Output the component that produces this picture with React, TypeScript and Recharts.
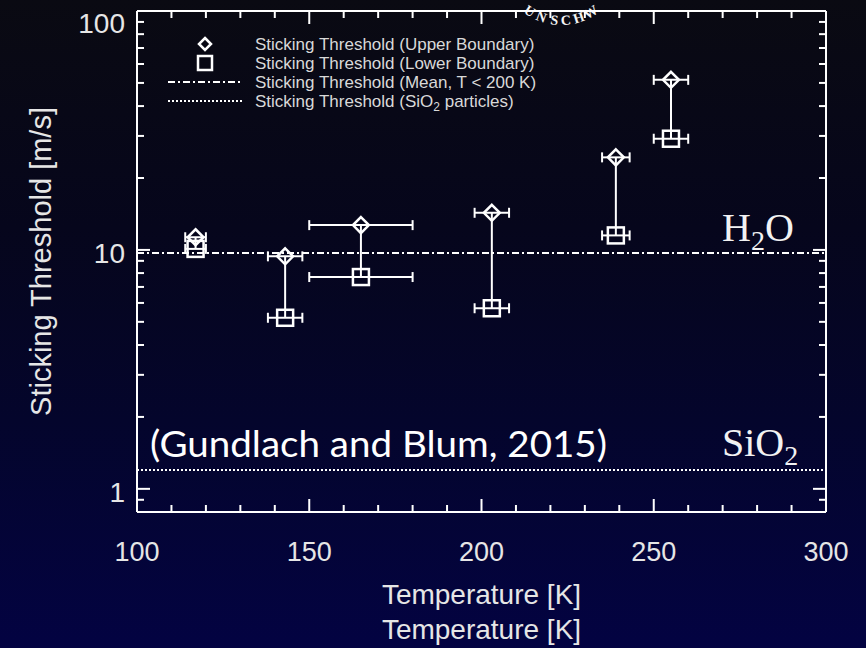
import { ScatterChart, Scatter, XAxis, YAxis, ErrorBar, ReferenceLine, Legend } from 'recharts';

// measured sticking thresholds per temperature bin
const temperatures = [117, 143, 165, 203, 239, 255];
const temperatureErr = [3, 5, 15, 5, 4, 5];
const upperBoundary = [11.3, 9.4, 12.7, 14.3, 24.4, 51.5];
const lowerBoundary = [10.1, 5.2, 7.7, 5.7, 11.5, 29.2];

const meanThreshold = 9.7; // mean, T < 200 K
const sio2Threshold = 1.2;

const xTicks = [100, 110, 120, 130, 140, 150, 160, 170, 180, 190, 200, 210, 220, 230, 240, 250, 260, 270, 280, 290, 300];
const xLabels = [100, 150, 200, 250, 300];
const yTicks = [0.8, 0.9, 1, 2, 3, 4, 5, 6, 7, 8, 9, 10, 20, 30, 40, 50, 60, 70, 80, 90, 100];
const yLabels = [1, 10, 100];

const legendLabels = [
  'Sticking Threshold (Upper Boundary)',
  'Sticking Threshold (Lower Boundary)',
  'Sticking Threshold (Mean, T < 200 K)',
];

// letters of the seal rim and their angle from the bottom of the ring (deg)
const sealLetters = ['U', 'N', 'S', 'C', 'H', 'W'];
const sealAngles = [-33, -20, -6.5, 5, 18, 31];

const upperRows = temperatures.map((t, i) => ({
  t,
  v: upperBoundary[i],
  terr: temperatureErr[i],
  span: [upperBoundary[i] - lowerBoundary[i], 0],
}));
const lowerRows = temperatures.map((t, i) => ({ t, v: lowerBoundary[i], terr: temperatureErr[i] }));

const WHITE = '#ffffff';
const TEXT = '#e6e6e6';
const SANS = '"Liberation Sans", Arial, sans-serif';
const SERIF = '"Liberation Serif", "Times New Roman", serif';

const Diamond = (props: any) => {
  const { cx, cy } = props;
  const r = 8;
  return (
    <path
      d={`M${cx},${cy - r} L${cx + r},${cy} L${cx},${cy + r} L${cx - r},${cy} Z`}
      fill="none"
      stroke={WHITE}
      strokeWidth={2.5}
    />
  );
};

const Square = (props: any) => {
  const { cx, cy } = props;
  const r = 8;
  return <rect x={cx - r} y={cy - r} width={2 * r} height={2 * r} fill="none" stroke={WHITE} strokeWidth={2.5} />;
};

// inward ticks, labels only on the major ones
const BottomTick = ({ x, y, payload }: any) => {
  const major = xLabels.includes(payload.value);
  return (
    <g>
      <line x1={x} y1={y} x2={x} y2={y - (major ? 13 : 7)} stroke={WHITE} strokeWidth={2} />
      {major && (
        <text x={x} y={y + 49} textAnchor="middle" fill={TEXT} fontSize={27} fontFamily={SANS}>
          {payload.value}
        </text>
      )}
    </g>
  );
};

const TopTick = ({ x, y, payload }: any) => {
  const major = xLabels.includes(payload.value);
  return <line x1={x} y1={y} x2={x} y2={y + (major ? 13 : 7)} stroke={WHITE} strokeWidth={2} />;
};

const LeftTick = ({ x, y, payload }: any) => {
  const major = yLabels.includes(payload.value);
  return (
    <g>
      <line x1={x} y1={y} x2={x + (major ? 13 : 7)} y2={y} stroke={WHITE} strokeWidth={2} />
      {major && (
        <text x={x - 12} y={Math.max(y + 13, 33)} textAnchor="end" fill={TEXT} fontSize={28} fontFamily={SANS}>
          {payload.value}
        </text>
      )}
    </g>
  );
};

const RightTick = ({ x, y, payload }: any) => {
  const major = yLabels.includes(payload.value);
  return <line x1={x} y1={y} x2={x - (major ? 13 : 7)} y2={y} stroke={WHITE} strokeWidth={2} />;
};

const XTitle = ({ viewBox }: any) => {
  const cx = viewBox.x + viewBox.width / 2;
  const y = viewBox.y;
  return (
    <g fill={TEXT} fontSize={28} fontFamily={SANS} textAnchor="middle">
      <text x={cx} y={y + 92}>Temperature [K]</text>
      <text x={cx} y={y + 127}>Temperature [K]</text>
    </g>
  );
};

const YTitle = ({ viewBox }: any) => {
  const x = viewBox.x + viewBox.width - 86;
  const cy = viewBox.y + viewBox.height / 2;
  return (
    <text
      x={x}
      y={cy}
      transform={`rotate(-90, ${x}, ${cy})`}
      textAnchor="middle"
      fill={TEXT}
      fontSize={29}
      fontFamily={SANS}
    >
      Sticking Threshold [m/s]
    </text>
  );
};

const H2OLabel = ({ viewBox }: any) => {
  const x = viewBox.x + viewBox.width - 104;
  const y = viewBox.y - 12;
  return (
    <text x={x} y={y} fill="#f2f2f2" fontSize={40} fontFamily={SERIF}>
      H<tspan fontSize={28} dy={9}>2</tspan>
      <tspan dy={-9}>O</tspan>
    </text>
  );
};

const SiO2Label = ({ viewBox }: any) => {
  const right = viewBox.x + viewBox.width;
  const y = viewBox.y - 14;
  return (
    <g>
      <text x={viewBox.x + 13} y={y + 1} fill="#ffffff" fontSize={36} fontFamily="Lato, sans-serif" textLength={457} lengthAdjust="spacingAndGlyphs">
        (Gundlach and Blum, 2015)
      </text>
      <text x={right - 104} y={y} fill="#f2f2f2" fontSize={40} fontFamily={SERIF}>
        SiO<tspan fontSize={28} dy={9}>2</tspan>
      </text>
    </g>
  );
};

const LegendBox = () => {
  const rowY = [10, 29, 48, 67];
  const textX = 95;
  return (
    <svg width={420} height={80} style={{ display: 'block' }}>
      <path d={`M45,${rowY[0] - 6} L51,${rowY[0]} L45,${rowY[0] + 6} L39,${rowY[0]} Z`} fill="none" stroke={WHITE} strokeWidth={2.5} />
      <rect x={38} y={rowY[1] - 7} width={14} height={14} fill="none" stroke={WHITE} strokeWidth={2.5} />
      <line x1={8} y1={rowY[2]} x2={82} y2={rowY[2]} stroke={WHITE} strokeWidth={2} strokeDasharray="7 3 2 3" />
      <line x1={8} y1={rowY[3]} x2={82} y2={rowY[3]} stroke={WHITE} strokeWidth={2} strokeDasharray="2 2" />
      <g fill="#d9d9d9" fontSize={17} fontFamily={SANS}>
        {legendLabels.map((label, i) => (
          <text key={label} x={textX} y={rowY[i] + 6}>
            {label}
          </text>
        ))}
        <text x={textX} y={rowY[3] + 6}>
          Sticking Threshold (SiO<tspan fontSize={12} dy={4}>2</tspan>
          <tspan dy={-4}> particles)</tspan>
        </text>
      </g>
    </svg>
  );
};

// bit of the university seal peeking in above the frame
const SealText = () => {
  const cx = 561;
  const cy = -37;
  const r = 62;
  return (
    <g fill="#f4f4f4" fontSize={14} fontWeight="bold" fontFamily={SERIF} textAnchor="middle">
      {sealLetters.map((ch, i) => (
        <text key={ch} x={cx} y={cy + r} transform={`rotate(${-sealAngles[i]}, ${cx}, ${cy})`}>
          {ch}
        </text>
      ))}
    </g>
  );
};

const axisLine = { stroke: WHITE, strokeWidth: 2 };

export default function App() {
  return (
    <div
      style={{
        position: 'fixed',
        inset: 0,
        width: 866,
        height: 648,
        background: 'linear-gradient(180deg, #0a0a12 0%, #06061c 35%, #04052c 65%, #030342 100%)',
      }}
    >
      <ScatterChart width={866} height={648} margin={{ top: 10, right: 39, bottom: 135, left: 136 }}>
        <XAxis
          type="number"
          dataKey="t"
          domain={[100, 300]}
          ticks={xTicks}
          interval={0}
          allowDataOverflow
          height={1}
          tickSize={0}
          tickMargin={0}
          tickLine={false}
          axisLine={axisLine}
          tick={<BottomTick />}
          label={<XTitle />}
        />
        <XAxis
          xAxisId="top"
          orientation="top"
          type="number"
          dataKey="t"
          domain={[100, 300]}
          ticks={xTicks}
          interval={0}
          allowDataOverflow
          height={1}
          tickSize={0}
          tickMargin={0}
          tickLine={false}
          axisLine={axisLine}
          tick={<TopTick />}
        />
        <YAxis
          type="number"
          dataKey="v"
          scale="log"
          domain={[0.8, 100]}
          ticks={yTicks}
          interval={0}
          allowDataOverflow
          width={1}
          tickSize={0}
          tickMargin={0}
          tickLine={false}
          axisLine={axisLine}
          tick={<LeftTick />}
          label={<YTitle />}
        />
        <YAxis
          yAxisId="right"
          orientation="right"
          type="number"
          dataKey="v"
          scale="log"
          domain={[0.8, 100]}
          ticks={yTicks}
          interval={0}
          allowDataOverflow
          width={1}
          tickSize={0}
          tickMargin={0}
          tickLine={false}
          axisLine={axisLine}
          tick={<RightTick />}
        />

        <ReferenceLine y={meanThreshold} stroke={WHITE} strokeWidth={2} strokeDasharray="7 3 2 3" label={<H2OLabel />} />
        <ReferenceLine y={sio2Threshold} stroke={WHITE} strokeWidth={2} strokeDasharray="2 2" label={<SiO2Label />} />

        <Scatter name="Upper Boundary" data={upperRows} shape={<Diamond />} isAnimationActive={false}>
          <ErrorBar dataKey="span" direction="y" width={0} stroke={WHITE} strokeWidth={2} />
          <ErrorBar dataKey="terr" direction="x" width={5} stroke={WHITE} strokeWidth={2} />
        </Scatter>
        <Scatter name="Lower Boundary" data={lowerRows} shape={<Square />} isAnimationActive={false}>
          <ErrorBar dataKey="terr" direction="x" width={5} stroke={WHITE} strokeWidth={2} />
        </Scatter>
        {/* same points on the mirrored axes so the top and right frame get scales */}
        <Scatter name="frame" data={lowerRows} xAxisId="top" yAxisId="right" shape={() => null} isAnimationActive={false} legendType="none" />

        <Legend
          layout="vertical"
          align="center"
          verticalAlign="middle"
          content={<LegendBox />}
          wrapperStyle={{ left: 160, top: 34, width: 420, height: 80 }}
        />

        <SealText />
      </ScatterChart>
    </div>
  );
}
